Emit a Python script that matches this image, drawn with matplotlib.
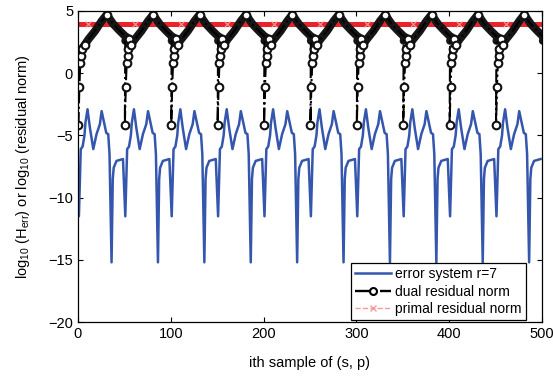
import numpy as np
import matplotlib
matplotlib.use('Agg')
from matplotlib import pyplot as plt
from matplotlib.lines import Line2D

plt.rcParams['font.family'] = ['Liberation Sans', 'DejaVu Sans']
plt.rcParams['mathtext.fontset'] = 'custom'
plt.rcParams['mathtext.rm'] = 'Liberation Sans'
plt.rcParams['mathtext.it'] = 'Liberation Sans'

# one period of the pattern (50 samples), offsets from period start
period = 50
n_periods = 10

err_off = [0, 1, 3, 5, 7, 8, 10.3, 12.9, 16.5, 20, 23.6, 25.5, 30.5, 32.6, 34, 36.2, 37.5, 38.5, 41.5, 48.5]
err_val = [-11.3, -11.5, -6.1, -5.9, -5.0, -4.0, -2.9, -4.4, -6.1, -4.9, -4.1, -3.05, -4.8, -4.9, -6.5, -15.2, -8.5, -7.6, -7.05, -6.9]

dual_off = [0.5, 1.5, 2.5, 3.5, 4.0, 5.5, 7.5, 11, 18.5, 25.6, 31, 38, 45, 50.5, 55.5, 51]
dual_val = [-4.2, -1.1, 0.85, 1.4, 1.95, 2.1, 2.3, 2.7, 3.4, 4.2, 4.7, 3.95, 3.4, 3.0, 2.75, 2.6]
band_start = 4   # from here on the markers sit so dense they form a thick band
dual_shown = [0, 1, 2, 3, 4, 6, 10, 14]   # circles that stand out of the band

primal_level = 3.93
primal_mark_off = 11

xticks = [0, 100, 200, 300, 400, 500]
yticks = [-20, -15, -10, -5, 0, 5]

blue = '#3556ad'
red = '#e8232b'
pink = '#f39a9a'

fig = plt.figure(figsize=(5.53, 3.78), dpi=100)
ax = fig.add_axes([0.141, 0.148, 0.839, 0.823])

# error system
ex, ey = [], []
for k in range(n_periods):
    b = k * period
    for o, v in zip(err_off, err_val):
        if k > 0 and o == 0:
            continue
        ex.append(b + o)
        ey.append(v)
ax.plot(ex, ey, color=blue, lw=1.8, zorder=2)

# primal residual (flat)
ax.plot([0, 500], [primal_level, primal_level], color=red, lw=3.6, zorder=3)
px = [primal_mark_off + period * k for k in range(n_periods)]
ax.plot(px, [primal_level] * len(px), ls='none', marker='x', ms=4, mew=0.8,
        color=pink, zorder=4)

# dual residual
dx, dy, mx, my = [], [], [], []
for k in range(n_periods):
    b = k * period
    for i, (o, v) in enumerate(zip(dual_off, dual_val)):
        dx.append(b + o)
        dy.append(v)
        if i in dual_shown:
            mx.append(b + o)
            my.append(v)
    ax.plot([b + o for o in dual_off[band_start:]], dual_val[band_start:],
            color='#161616', lw=5.8, solid_capstyle='round', zorder=5)
ax.plot(dx, dy, color='k', ls='-.', lw=1.5, zorder=5)
ax.plot(mx, my, ls='none', marker='o', ms=5.5, mew=1.5,
        mfc='white', mec='#111111', zorder=6)

ax.set_xlim(0, 500)
ax.set_ylim(-20, 5)
ax.set_xticks(xticks)
ax.set_yticks(yticks)
ax.tick_params(direction='in', top=True, right=True, labelsize=10.5, length=3.5, width=0.8)
for s in ax.spines.values():
    s.set_linewidth(0.9)
    s.set_zorder(7)

ax.set_xlabel('ith sample of (s, p)', fontsize=10.5, labelpad=11)
ax.set_ylabel(r'log$_{10}$ (H$_{\mathrm{err}}$) or log$_{10}$ (residual norm)', fontsize=10.5, labelpad=12)

handles = [
    Line2D([], [], color=blue, lw=1.8),
    Line2D([], [], color='k', ls='-.', lw=1.7, marker='o', ms=5, mew=1.5, mfc='white'),
    Line2D([], [], color=pink, ls='--', lw=1.0, marker='x', ms=4, mew=1.0),
]
labels = ['error system r=7', 'dual residual norm', 'primal residual norm']
leg = ax.legend(handles, labels, loc='lower right', bbox_to_anchor=(0.965, 0.006),
                borderaxespad=0, fontsize=10, fancybox=False, framealpha=1,
                handlelength=2.6, handletextpad=0.3, labelspacing=0.25, borderpad=0.3)
leg.get_frame().set_edgecolor('k')
leg.get_frame().set_linewidth(0.9)
leg.set_zorder(10)

fig.savefig('out.png', dpi=100)
